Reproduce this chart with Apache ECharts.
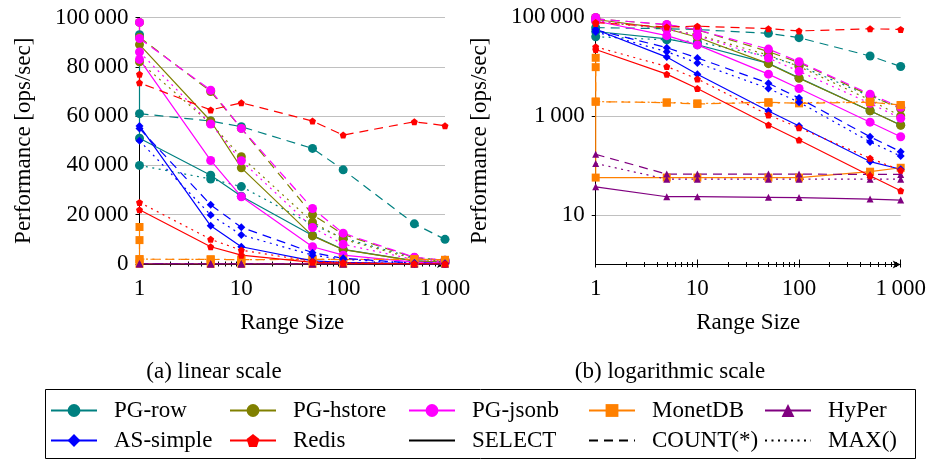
<!DOCTYPE html>
<html><head><meta charset="utf-8">
<script src="https://cdn.jsdelivr.net/npm/echarts@6/dist/echarts.min.js"></script>
<style>html,body{margin:0;padding:0;background:#fff}#c{width:929px;height:460px}</style>
</head><body><div id="c"></div>
<script>
// ---------- data ----------
const rangeSizes = [1, 5, 10, 50, 100, 500, 1000];
const xLabelTicks = [1, 10, 100, 1000];
const xMinorTicks = [2,3,4,5,6,7,8,9,20,30,40,50,60,70,80,90,200,300,400,500,600,700,800,900];
const logYTicks = [10, 1000, 100000];

const pgRowSelect = [51000, 36000, 27500, 11600, 5900, 1280, 660];
const pgRowCount  = [61000, 58000, 55700, 46900, 38200, 16300, 10000];
const pgRowMax    = [40000, 34500, 31400, 16000, 10500, 2500, 1500];
const pgRowSelectFirst = 93000;

const pgHstoreSelect = [89000, 58000, 39000, 11400, 5800, 1280, 650];
const pgHstoreCount  = [92000, 70000, 55000, 20000, 12000, 2600, 1400];
const pgHstoreMax    = [82000, 57000, 43500, 17000, 10000, 2100, 1000];
const pgHstoreSelectFirst = 98000;

const pgJsonbSelect = [83000, 42000, 27300, 7000, 3600, 750, 380];
const pgJsonbCount  = [91500, 70500, 55000, 22500, 12500, 2750, 1500];
const pgJsonbMax    = [86000, 56800, 41900, 14800, 8000, 1800, 900];
const pgJsonbSelectFirst = 98000;

const monetSelect = [57, 57, 57, 57, 57, 75, 90];
const monetCount  = [1950, 1860, 1750, 1900, 1800, 1900, 1670];
const monetMax    = [1950, 1880, 1800, 1850, 1850, 1950, 1650];
const monetSelectFirst = 15000;
const monetCountFirst = 9700;

const hyperSelect = [37, 23.4, 23.4, 22.8, 22.5, 21, 20];
const hyperCount  = [168, 67, 67, 67, 67, 66, 66];
const hyperMax    = [110, 53, 53, 53, 53, 53, 53];

const asSelect = [56000, 15500, 7000, 1260, 630, 120, 84];
const asCount  = [55000, 24000, 14900, 4600, 2300, 380, 190];
const asMax    = [50000, 19900, 11800, 3600, 1900, 300, 155];

const redisSelect = [22000, 7000, 3600, 660, 327, 62, 31];
const redisCount  = [73500, 62500, 65400, 58000, 52300, 57700, 56100];
const redisMax    = [25000, 10000, 5600, 1050, 580, 140, 80];
const redisCountFirst = 77000;

// ---------- styles ----------
const FONT = '"Liberation Serif", "Times New Roman", "DejaVu Serif", serif';
const FS = 23;
const pentagon = 'path://M0,-1 L0.951,-0.309 L0.588,0.809 L-0.588,0.809 L-0.951,-0.309 Z';
const systems = [
  {name:'PG-row',    color:'#008080', symbol:'circle',   size:9, vals:[pgRowSelect, pgRowCount, pgRowMax], first:[pgRowSelectFirst, null, null]},
  {name:'PG-hstore', color:'#808000', symbol:'circle',   size:9, vals:[pgHstoreSelect, pgHstoreCount, pgHstoreMax], first:[pgHstoreSelectFirst, null, null]},
  {name:'PG-jsonb',  color:'#ff00ff', symbol:'circle',   size:9, vals:[pgJsonbSelect, pgJsonbCount, pgJsonbMax], first:[pgJsonbSelectFirst, null, null]},
  {name:'MonetDB',   color:'#ff8000', symbol:'rect',     size:8, vals:[monetSelect, monetCount, monetMax], first:[monetSelectFirst, monetCountFirst, null]},
  {name:'HyPer',     color:'#800080', symbol:'triangle', size:7, vals:[hyperSelect, hyperCount, hyperMax], first:[null, null, null]},
  {name:'AS-simple', color:'#0000ff', symbol:'diamond',  size:8, vals:[asSelect, asCount, asMax], first:[null, null, null]},
  {name:'Redis',     color:'#ff0000', symbol:pentagon,   size:7, vals:[redisSelect, redisCount, redisMax], first:[null, redisCountFirst, null]}
];
const dashTypes = ['solid', [9, 6], [2, 4.5]];
const variantNames = ['SELECT', 'COUNT(*)', 'MAX()'];

function fmt(v){ return String(v).replace(/\B(?=(\d{3})+(?!\d))/g, '\u2009'); }

const grids = [
  {left:139.5, top:17.5, width:305.5, height:246.5},
  {left:595.7, top:17, width:305, height:247.5}
];

const labelStyle = {fontFamily:FONT, fontSize:FS, color:'#000'};

function xAxesFor(g){
  const base = {type:'log', logBase:10, min:1, max:1000, gridIndex:g, position:'bottom', splitLine:{show:false}};
  return [
    Object.assign({}, base, {
      name:'Range Size', nameLocation:'middle', nameGap:47,
      nameTextStyle:{fontFamily:FONT, fontSize:FS, color:'#000'},
      axisLine:{show:true, lineStyle:{color:'#000', width:1}, symbol:['none','arrow'], symbolSize:[6,8]},
      axisTick:{show:true, customValues:xLabelTicks, length:3, inside:false, lineStyle:{color:'#000'}},
      axisLabel:Object.assign({customValues:xLabelTicks, margin:13, formatter:fmt}, labelStyle)
    }),
    Object.assign({}, base, {
      axisLine:{show:false}, axisLabel:{show:false},
      axisTick:{show:true, customValues:xLabelTicks, length:5, inside:true, lineStyle:{color:'#000'}}
    }),
    Object.assign({}, base, {
      axisLine:{show:false}, axisLabel:{show:false},
      axisTick:{show:true, customValues:xMinorTicks, length:2.5, inside:true, lineStyle:{color:'#000'}}
    }),
    Object.assign({}, base, {
      axisLine:{show:false}, axisLabel:{show:false},
      axisTick:{show:true, customValues:xMinorTicks, length:2.5, inside:false, lineStyle:{color:'#000'}}
    })
  ];
}

const yAxes = [
  {type:'value', gridIndex:0, min:0, max:100000, interval:20000,
   name:'Performance [ops/sec]', nameLocation:'middle', nameGap:104,
   nameTextStyle:{fontFamily:FONT, fontSize:FS, color:'#000'},
   axisLine:{show:true, lineStyle:{color:'#000'}},
   axisTick:{show:true, length:4, lineStyle:{color:'#000'}},
   axisLabel:Object.assign({margin:11, formatter:fmt}, labelStyle),
   splitLine:{show:true, lineStyle:{color:'#c0c0c0', width:1}}},
  {type:'log', logBase:10, gridIndex:1, min:1, max:100000,
   name:'Performance [ops/sec]', nameLocation:'middle', nameGap:104,
   nameTextStyle:{fontFamily:FONT, fontSize:FS, color:'#000'},
   axisLine:{show:true, lineStyle:{color:'#000'}},
   axisTick:{show:true, customValues:logYTicks, length:4, lineStyle:{color:'#000'}},
   axisLabel:Object.assign({customValues:logYTicks, margin:11, formatter:fmt}, labelStyle),
   splitLine:{show:true, lineStyle:{color:'#c0c0c0', width:1}}}
];

const series = [];
for (let g = 0; g < 2; g++) {
  systems.forEach(s => {
    for (let k = 0; k < 3; k++) {
      const data = [];
      if (s.first[k] != null) data.push([1, s.first[k]]);
      s.vals[k].forEach((v, i) => data.push([rangeSizes[i], v]));
      series.push({
        type:'line', name:s.name, xAxisIndex:g*4, yAxisIndex:g, data,
        symbol:s.symbol, symbolSize:s.size, showAllSymbol:true,
        color:s.color, itemStyle:{color:s.color},
        lineStyle:{color:s.color, width:1.2, type:dashTypes[k]},
        animation:false, silent:true
      });
    }
  });
}
variantNames.forEach((n, k) => {
  series.push({type:'line', name:n, xAxisIndex:0, yAxisIndex:0, data:[], symbol:'none',
    color:'#000', itemStyle:{opacity:0}, lineStyle:{color:'#000', width:1.2, type:dashTypes[k], opacity:1}, animation:false});
});

const legendPos = [
  ['PG-row', 50, 0], ['PG-hstore', 229, 0], ['PG-jsonb', 408, 0], ['MonetDB', 588, 0], ['HyPer', 764, 0],
  ['AS-simple', 50, 1], ['Redis', 229, 1], ['SELECT', 408, 1], ['COUNT(*)', 588, 1], ['MAX()', 764, 1]
];
const legends = legendPos.map(([n, x, r]) => ({
  data:[ r === 1 && x >= 408 ? {name:n, itemStyle:{opacity:0}} : n ],
  left:x, top: r === 0 ? 399 : 429, padding:0, itemWidth:46, itemHeight:16,
  selectedMode:false,
  textStyle:{fontFamily:FONT, fontSize:FS, color:'#000', padding:[0,0,0,12]}
}));

const chart = echarts.init(document.getElementById('c'), null, {renderer:'canvas'});
chart.setOption({
  backgroundColor:'#fff',
  animation:false,
  grid:grids,
  xAxis:[].concat(xAxesFor(0), xAxesFor(1)),
  yAxis:yAxes,
  legend:legends,
  series,
  graphic:[
    {type:'rect', shape:{x:45.5, y:389.5, width:870, height:69}, style:{fill:'none', stroke:'#000', lineWidth:1}, silent:true},
    {type:'text', x:214, y:372, style:{text:'(a) linear scale', fontFamily:FONT, fontSize:FS, fill:'#000', align:'center', verticalAlign:'middle'}},
    {type:'text', x:670, y:372, style:{text:'(b) logarithmic scale', fontFamily:FONT, fontSize:FS, fill:'#000', align:'center', verticalAlign:'middle'}}
  ]
});
</script></body></html>
